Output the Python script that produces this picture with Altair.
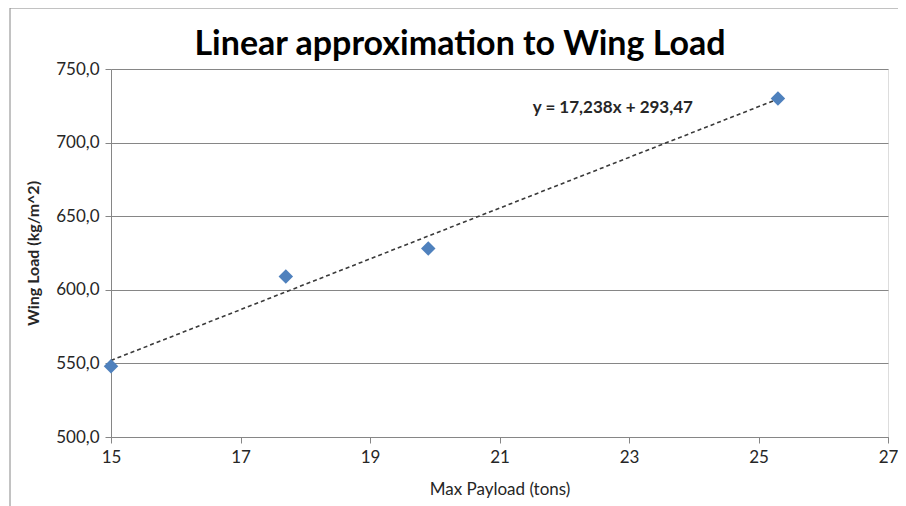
import altair as alt
import pandas as pd

# Data
payload = [15, 17.7, 19.9, 25.3]
wing_load = [548, 609, 628, 730]

# Trendline as shown on the chart
slope = 17.238
intercept = 293.47
trend_x = [min(payload), max(payload)]
trend_y = [slope * v + intercept for v in trend_x]
equation_label = ["y = 17,238x + 293,47"]
equation_pos_x = [22.75]
equation_pos_y = [723.5]
title_text = ["Linear approximation to Wing Load"]

x_ticks = [15, 17, 19, 21, 23, 25, 27]
y_ticks = [500, 550, 600, 650, 700, 750]

FONT = "Lato"

pts = pd.DataFrame({"payload": payload, "load": wing_load})
trend = pd.DataFrame({"payload": trend_x, "load": trend_y})
eq = pd.DataFrame({"payload": equation_pos_x, "load": equation_pos_y, "label": equation_label})

xscale = alt.Scale(domain=[15, 27], nice=False, zero=False)
yscale = alt.Scale(domain=[500, 750], nice=False, zero=False)

xaxis = alt.Axis(
    title="Max Payload  (tons)", values=x_ticks, grid=False, format="d", labelFlush=False,
    domainColor="#868686", tickColor="#868686", tickSize=6,
    labelFont=FONT, labelFontSize=17, labelColor="#262626", labelPadding=6,
    titleFont=FONT, titleFontSize=17, titleFontWeight="normal", titleColor="#262626",
    titlePadding=16,
)
yaxis = alt.Axis(
    title="Wing Load (kg/m^2)", values=y_ticks, grid=True, labelFlush=False,
    gridColor="#868686", domainColor="#868686", tickColor="#868686", tickSize=6,
    labelExpr="replace(format(datum.value, '.1f'), '.', ',')",
    labelFont=FONT, labelFontSize=17, labelColor="#262626", labelPadding=6,
    titleFont=FONT, titleFontSize=16, titleFontWeight="bold", titleColor="#262626",
    titlePadding=14,
)

frame = alt.Chart(pd.DataFrame({"a": [0]})).mark_rect(
    fill=None, stroke="#868686", strokeWidth=1
).encode(
    x=alt.value(-101), x2=alt.value(796), y=alt.value(-61), y2=alt.value(450)
)

title = alt.Chart(pd.DataFrame({"t": title_text})).mark_text(
    font=FONT, fontSize=34, fontWeight="bold", color="#000000",
    align="center", baseline="middle"
).encode(
    x=alt.value(349), y=alt.value(-24), text="t:N"
)

line = alt.Chart(trend).mark_line(
    color="#3a3a3a", strokeDash=[4, 3], strokeWidth=1.6
).encode(
    x=alt.X("payload:Q", scale=xscale, axis=xaxis),
    y=alt.Y("load:Q", scale=yscale, axis=yaxis),
)

points = alt.Chart(pts).mark_point(
    shape="diamond", filled=True, size=210, color="#4F81BD", opacity=1
).encode(
    x=alt.X("payload:Q", scale=xscale),
    y=alt.Y("load:Q", scale=yscale),
)

text = alt.Chart(eq).mark_text(
    font=FONT, fontSize=17, fontWeight="bold", color="#262626", align="center", baseline="middle"
).encode(
    x=alt.X("payload:Q", scale=xscale),
    y=alt.Y("load:Q", scale=yscale),
    text="label:N",
)

chart = alt.layer(frame, title, line, points, text).properties(
    width=777, height=368,
    autosize=alt.AutoSizeParams(type="none"),
    padding={"left": 103, "top": 61, "right": 10, "bottom": 72},
).configure_view(stroke=None).configure(background="white")

chart.save("out.html", embed_options={"renderer": "svg", "actions": False})
